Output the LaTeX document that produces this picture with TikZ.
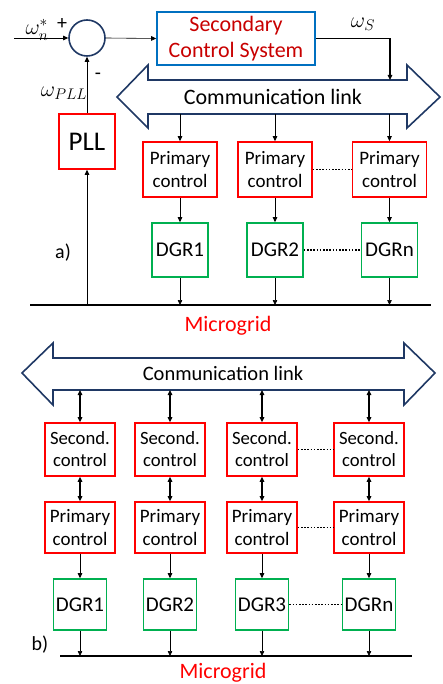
\RequirePackage{fix-cm}
\documentclass[tikz,border=0pt]{standalone}
\usepackage{fontspec}
\setmainfont{Carlito}
\usetikzlibrary{arrows.meta,positioning}
\definecolor{ctrlred}{RGB}{255,0,0}
\definecolor{dgrgreen}{RGB}{0,176,80}
\definecolor{scsblue}{RGB}{0,112,192}
\definecolor{linknavy}{RGB}{31,56,100}
\definecolor{txtred}{RGB}{200,0,0}

\begin{document}
\begin{tikzpicture}[x=1pt, y=-1pt,
    ctrl/.style={rectangle, draw=ctrlred, line width=1.6pt, align=center, inner sep=0pt, font=\fontsize{19}{23}\selectfont},
    dgr/.style={rectangle, draw=dgrgreen, line width=1.6pt, inner sep=0pt, minimum height=54pt, font=\fontsize{21}{24}\selectfont},
    link/.style={draw=linknavy, line width=1.6pt, line join=miter},
    arr/.style={-{Triangle[length=5pt, width=4.5pt]}, line width=0.6pt},
    darr/.style={{Triangle[length=5pt, width=4.5pt]}-{Triangle[length=5pt, width=4.5pt]}, line width=1.2pt},
    dots/.style={line width=1.6pt, dash pattern=on 1.6pt off 1.6pt},
    bus/.style={line width=2pt},
    lbl/.style={font=\fontsize{22}{26}\selectfont}
]
\useasboundingbox (0,0) rectangle (442,684);

% a) centralized secondary control
\node[circle, draw=linknavy, line width=1.6pt, minimum size=36pt, inner sep=0pt] (sum) at (87,38) {};
\coordinate (wref) at (14,38);
\node[rectangle, draw=scsblue, line width=1.6pt, minimum width=158pt, minimum height=53pt, align=center, text=txtred, font=\fontsize{22}{26}\selectfont] (scs) at (236,38.5) {Secondary\\Control System};
\node[ctrl, minimum width=56pt, minimum height=55pt, font=\fontsize{27}{30}\selectfont] (pll) at (87,141.5) {PLL};

\draw[link] (117,97) -- (148,65) -- (148,80) -- (407,80) -- (407,65) -- (440,97) -- (407,128) -- (407,114) -- (148,114) -- (148,128) -- cycle;
\node[font=\fontsize{22}{26}\selectfont] (linkA) at (273,97) {Communication link};
\coordinate (linkAtop) at (390,80);
\coordinate (linkAbot) at (0,114);

\node[ctrl, minimum width=74pt, minimum height=55pt] (pa1) at (180,169.5) {Primary\\control};
\node[ctrl, minimum width=74pt, minimum height=55pt] (pa2) at (275,169.5) {Primary\\control};
\node[ctrl, minimum width=74pt, minimum height=55pt] (pa3) at (389.5,169.5) {Primary\\control};
\node[dgr, minimum width=56pt] (da1) at (180,250) {DGR1};
\node[dgr, minimum width=56pt] (da2) at (275,250) {DGR2};
\node[dgr, minimum width=56pt] (da3) at (389.5,250) {DGRn};

\coordinate (gridAl) at (30,305);
\coordinate (gridAr) at (431,305);
\draw[bus] (gridAl) -- (gridAr);
\node[font=\fontsize{20}{24}\selectfont] (capA) at (63,253) {a)};
\node[text=ctrlred, font=\fontsize{22}{26}\selectfont] (mgA) at (228,326) {Microgrid};

\draw[arr] (wref) -- (sum.west);
\draw[arr] (sum.east) -- (scs.west);
\draw[arr, line width=1.2pt] (scs.east) -| (linkAtop);
\draw[arr] (pll.north) -- (sum.south);
\draw[arr] (pll.south |- gridAl) -- (pll.south);
\foreach \i in {1,2,3} {
  \draw[arr] (pa\i.north |- linkAbot) -- (pa\i.north);
  \draw[arr] (pa\i.south) -- (da\i.north);
  \draw[arr] (da\i.south) -- (da\i.south |- gridAl);
}
\draw[dots] (pa2.east) -- (pa3.west);
\draw[dots] (da2.east) -- (da3.west);

\node[lbl] (wn) at (37,30) {$\omega_n^*$};
\node[lbl, font=\fontsize{20}{24}\selectfont] (plus) at (62,24) {+};
\node[lbl, font=\fontsize{20}{24}\selectfont] (minus) at (98,76) {-};
\node[lbl] (wpll) at (64,93) {$\omega_{PLL}$};
\node[lbl] (ws) at (363,24) {$\omega_S$};

% b) distributed secondary control
\draw[link] (22,373) -- (53,343) -- (53,358) -- (404,358) -- (404,343) -- (435,373) -- (404,405) -- (404,390) -- (53,390) -- (53,405) -- cycle;
\node[font=\fontsize{20.5}{24}\selectfont] (linkB) at (223,373) {Conmunication link};
\coordinate (linkBbot) at (0,390);

\foreach \x [count=\i] in {80,170,262,369} {
  \node[ctrl, minimum width=70pt, minimum height=53pt, font=\fontsize{18.7}{22}\selectfont] (sb\i) at (\x,449.5) {Second.\\control};
  \node[ctrl, minimum width=70pt, minimum height=51pt] (pb\i) at (\x,527.5) {Primary\\control};
  \node[dgr, minimum width=53pt, minimum height=51pt] (db\i) at (\x,604.5) {DGR\ifcase\i\or1\or2\or3\or n\fi};
}

\coordinate (gridBl) at (60,656);
\coordinate (gridBr) at (412,656);
\draw[bus] (gridBl) -- (gridBr);
\node[font=\fontsize{20}{24}\selectfont] (capB) at (40,645) {b)};
\node[text=ctrlred, font=\fontsize{22}{26}\selectfont] (mgB) at (223,673) {Microgrid};

\foreach \i in {1,...,4} {
  \draw[darr] (sb\i.north |- linkBbot) -- (sb\i.north);
  \draw[darr] (sb\i.south) -- (pb\i.north);
  \draw[arr] (pb\i.south) -- (db\i.north);
  \draw[arr] (db\i.south) -- (db\i.south |- gridBl);
}
\draw[dots] (sb3.east) -- (sb4.west);
\draw[dots] (pb3.east) -- (pb4.west);
\draw[dots] (db3.east) -- (db4.west);
\end{tikzpicture}
\end{document}
